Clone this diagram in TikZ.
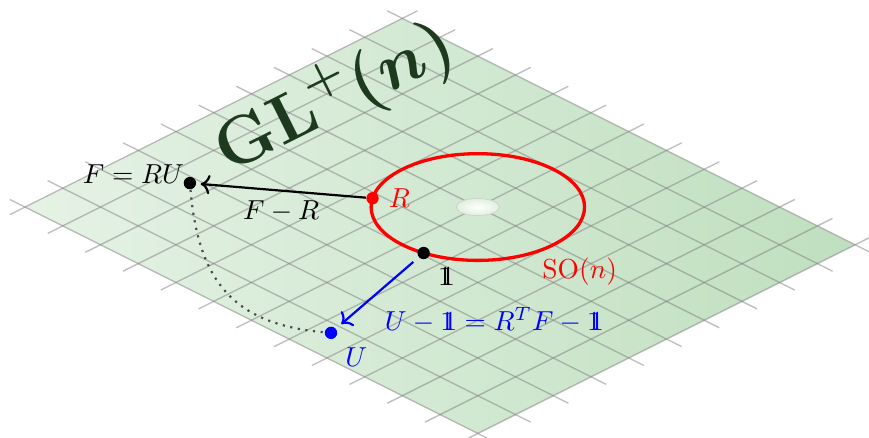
\documentclass[tikz,border=0pt]{standalone}
\usepackage{amsmath,amssymb}
\usepackage{xcolor}
\usepackage{tikz}
\usetikzlibrary{arrows.meta, calc}

\definecolor{titlegreen}{RGB}{30,58,30}
\newcommand{\unitmat}{\mathrm{1\mkern-7mu1}}

\begin{document}
\begin{tikzpicture}[
    dot/.style={circle, fill=#1, inner sep=0pt, minimum size=4.5pt},
    gridline/.style={gray, opacity=0.5, line width=0.5pt},
    ]
    \useasboundingbox (-0.32,-2.944) rectangle (10.803,2.65);

    \begin{scope}[x={(0.483cm,-0.2415cm)}, y={(0.483cm,0.2415cm)}]
    % Plane
    \shade[left color=green!50!black!10, right color=green!50!black!25]
        (0,0) -- (12,0) -- (12,10) -- (0,10) -- cycle;

    % Grid
    \foreach \i in {0,...,12}
        \draw[gridline] (\i,-0.4) -- (\i,10.4);
    \foreach \j in {0,...,10}
        \draw[gridline] (-0.4,\j) -- (12.4,\j);

    % Title
    \node[rotate=26.57, text=titlegreen, font=\fontsize{23}{28}\selectfont\boldmath] (title) at (1.2,7) {$\mathbf{GL}^{+}(n)$};
    \end{scope}

    % Hole in the middle
    \shade[inner color=white, outer color=green!50!black!12, draw=gray!40, very thin]
        (5.796,0) ellipse [x radius=0.275, y radius=0.109];

    \begin{scope}[x={(0.483cm,-0.2415cm)}, y={(0.483cm,0.2415cm)}]
    % SO(n)
    \draw[red, very thick] (6,6) circle [radius=2];
    \node[text=red] (SOlabel) at (9.07,5.63) {$\mathrm{SO}(n)$};

    % Points
    \node[dot=red] (R) at ({6+2*cos(215.5)},{6+2*sin(215.5)}) {};
    \node[dot=black] (one) at ({6+2*cos(284.5)},{6+2*sin(284.5)}) {};
    \node[dot=black] (F) at (1.55,2.82) {};
    \node[dot=blue] (U) at (7.39,0.72) {};

    \node[right, text=red] (Rlabel) at (R.east) {$R$};
    \node[below right] (onelabel) at (one.south east) {$\unitmat$};
    \node[below right, text=blue] (Ulabel) at (U.south east) {$U$};
    \node[anchor=base east, inner sep=0pt] (Flabel) at ([xshift=-2pt]F.center) {$F = RU$};

    % Vectors
    \draw[->, thick, shorten >=1.5pt] (R) -- (F) node[midway, below] (FRlabel) {$F - R$};
    \draw[->, thick, blue, shorten <=2.5pt, shorten >=2.5pt] (one) -- (U);
    \node[text=blue] (eqlabel) at (9.22,3.22) {$U - \unitmat = R^T F - \unitmat$};

    % Path from F to U
    \draw[dotted, thick, black!70] (F) to[out=-85, in=175, looseness=1.2] (U);
    \end{scope}
\end{tikzpicture}
\end{document}
